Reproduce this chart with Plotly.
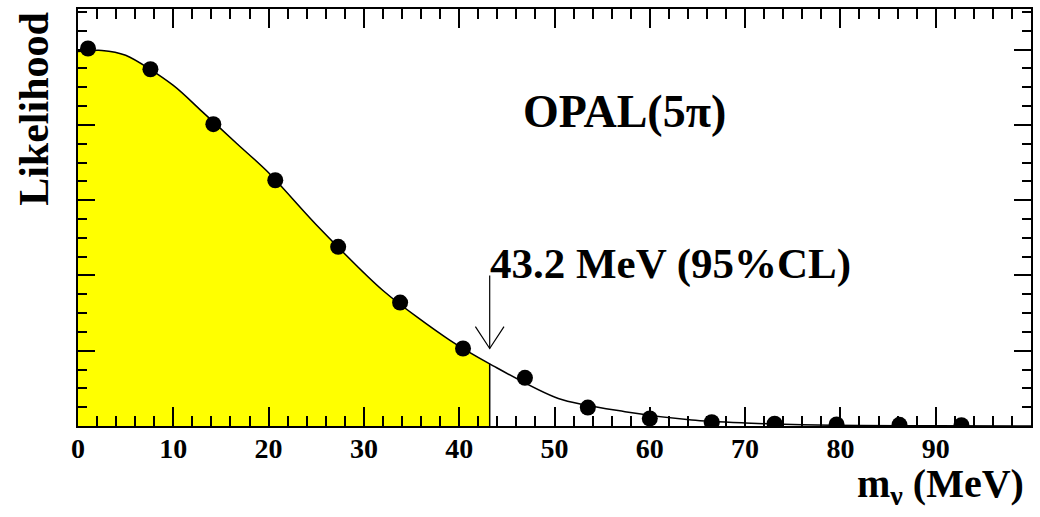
import plotly.graph_objects as go

# Data
mass_points = [1.05, 7.6, 14.2, 20.7, 27.3, 33.8, 40.4, 46.9, 53.5, 60.0, 66.5, 73.1, 79.6, 86.2, 92.7]
lik_points = [1.003, 0.948, 0.802, 0.653, 0.476, 0.328, 0.206, 0.128, 0.049, 0.020, 0.010, 0.006, 0.004, 0.003, 0.002]

curve_mass = [0, 2.5, 5, 10, 13, 16.6, 20, 25, 32, 39, 43.2, 50.4, 57.4, 64.4, 70, 76, 82, 90, 100]
curve_lik = [0.995, 0.998, 0.985, 0.905, 0.836, 0.752, 0.673, 0.535, 0.36, 0.228, 0.165,
             0.073, 0.038, 0.016, 0.008, 0.003, 0.0015, 0.0005, 0.0001]

cl_limit = 43.2
cl_lik = 0.165
x_tickvals = [0, 10, 20, 30, 40, 50, 60, 70, 80, 90]
x_ticktext = ["0", "10", "20", "30", "40", "50", "60", "70", "80", "90"]

FONT = "Liberation Serif"

fill_x = [m for m in curve_mass if m <= cl_limit]
fill_y = curve_lik[:len(fill_x)]

fig = go.Figure()
fig.add_trace(go.Scatter(x=fill_x, y=fill_y, mode="lines", fill="tozeroy",
                         fillcolor="#FFFF00", line=dict(width=0, shape="spline", smoothing=0.8),
                         hoverinfo="skip", showlegend=False))
fig.add_trace(go.Scatter(x=[cl_limit, cl_limit], y=[0, cl_lik], mode="lines",
                         line=dict(color="black", width=1.5), showlegend=False))
fig.add_trace(go.Scatter(x=curve_mass, y=curve_lik, mode="lines",
                         line=dict(color="black", width=1.5, shape="spline", smoothing=0.8),
                         showlegend=False))
fig.add_trace(go.Scatter(x=mass_points, y=lik_points, mode="markers",
                         marker=dict(color="black", size=16, symbol="circle"),
                         showlegend=False))

# arrow pointing at the limit
arrow_top = 0.40
arrow_tip = 0.206
head_dx = 1.5
head_dy = 0.058
fig.add_shape(type="line", x0=cl_limit, x1=cl_limit, y0=arrow_top, y1=arrow_tip,
              line=dict(color="black", width=1.2))
fig.add_shape(type="path",
              path=f"M {cl_limit-head_dx},{arrow_tip+head_dy} L {cl_limit},{arrow_tip} L {cl_limit+head_dx},{arrow_tip+head_dy}",
              line=dict(color="black", width=1.2))

fig.add_annotation(x=57.3, y=0.836, xref="x", yref="y", text="OPAL(5π)", showarrow=False,
                   xanchor="center", yanchor="middle",
                   font=dict(family=FONT, size=46, color="black", weight="bold"))
fig.add_annotation(x=cl_limit - 0.2, y=0.43, xref="x", yref="y", text="43.2 MeV (95%CL)",
                   showarrow=False, xanchor="left", yanchor="middle",
                   font=dict(family=FONT, size=43, color="black", weight="bold"))
fig.add_annotation(x=-0.046, y=0.761, xref="paper", yref="paper", text="Likelihood",
                   showarrow=False, textangle=-90, xanchor="center", yanchor="middle",
                   font=dict(family=FONT, size=42, color="black", weight="bold"))
fig.add_annotation(x=0.9948, y=-0.143, xref="paper", yref="paper", text="m<sub>ν</sub> (MeV)",
                   showarrow=False, xanchor="right", yanchor="middle",
                   font=dict(family=FONT, size=40, color="black", weight="bold"))

fig.update_layout(
    width=1040, height=517,
    margin=dict(l=78, r=8, t=7, b=91),
    paper_bgcolor="white", plot_bgcolor="white",
    xaxis=dict(range=[0, 100], tickmode="array", tickvals=x_tickvals, ticktext=x_ticktext,
               ticks="inside", ticklen=19, tickwidth=2, tickcolor="black",
               minor=dict(dtick=2, tick0=0, ticks="inside", ticklen=10, tickwidth=2, tickcolor="black"),
               showline=True, linecolor="black", linewidth=2, mirror="ticks",
               showgrid=False, zeroline=False, ticklabelstandoff=-4,
               tickfont=dict(family=FONT, size=28, color="black", weight="bold")),
    yaxis=dict(range=[0, 1.108], dtick=0.2, tick0=0, showticklabels=False,
               ticks="inside", ticklen=17, tickwidth=2, tickcolor="black",
               minor=dict(dtick=0.05, tick0=0, ticks="inside", ticklen=9, tickwidth=2, tickcolor="black"),
               showline=True, linecolor="black", linewidth=2, mirror="ticks",
               showgrid=False, zeroline=False),
)

fig.write_html("out.html")
